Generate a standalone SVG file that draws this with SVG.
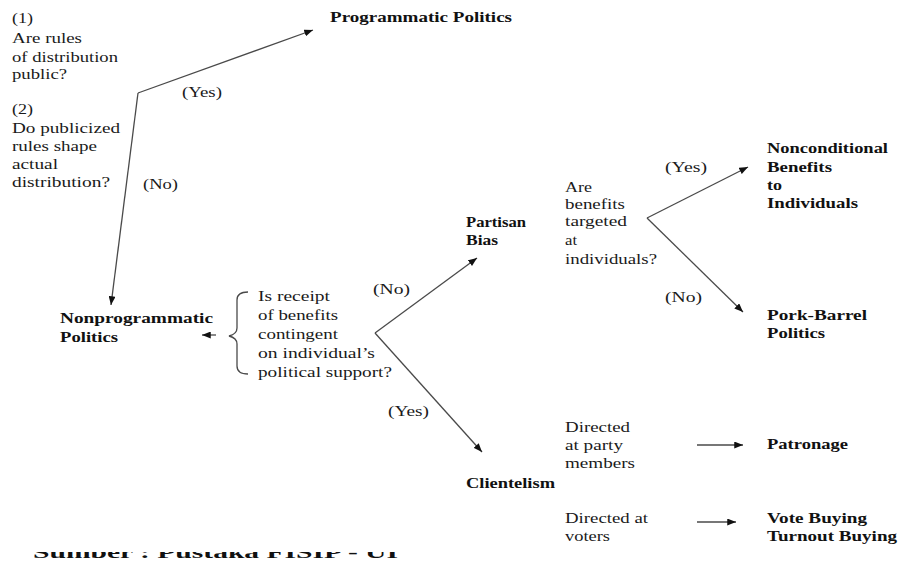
<svg xmlns="http://www.w3.org/2000/svg" width="901" height="563" viewBox="0 0 901 563">
<style>
text{font-family:"Liberation Serif","Times New Roman",serif;font-size:14px;fill:#1a1a1a}
.b{font-weight:bold;fill:#111}
.ln{stroke:#4a4a4a;stroke-width:1.3;fill:none}
.ar{marker-end:url(#ah)}
</style>
<defs>
<marker id="ah" viewBox="0 0 10 8" refX="10" refY="4" markerWidth="9" markerHeight="7" orient="auto" markerUnits="userSpaceOnUse"><path d="M0,0 L10,4 L0,8 z" fill="#111"/></marker>
<clipPath id="cut" clipPathUnits="userSpaceOnUse"><rect x="0" y="552" width="901" height="11"/></clipPath>
</defs>
<rect width="901" height="563" fill="#fff"/>
<g id="connectors">
<path class="ln ar" d="M138,93 L313,30"/>
<path class="ln ar" d="M138,93 L111,305"/>
<path class="ln ar" d="M216,335 L202,335"/>
<path class="ln" d="M248,292 Q237,292 237,300 L237,328 Q237,334 229,336 Q237,338 237,344 L237,366 Q237,374 248,374"/>
<path class="ln ar" d="M375,333 L477,258"/>
<path class="ln ar" d="M375,333 L482,452"/>
<path class="ln ar" d="M647,218 L748,167"/>
<path class="ln ar" d="M647,218 L743,312"/>
<path class="ln ar" d="M697,445 L743,445"/>
<path class="ln ar" d="M697,522 L736,522"/>
</g>
<g id="q1">
<text x="12" y="23" textLength="21" lengthAdjust="spacingAndGlyphs">(1)</text>
<text x="12" y="43" textLength="70" lengthAdjust="spacingAndGlyphs">Are rules</text>
<text x="12" y="62" textLength="106" lengthAdjust="spacingAndGlyphs">of distribution</text>
<text x="12" y="79" textLength="55" lengthAdjust="spacingAndGlyphs">public?</text>
</g>
<g id="q2">
<text x="12" y="114" textLength="21" lengthAdjust="spacingAndGlyphs">(2)</text>
<text x="12" y="133" textLength="108" lengthAdjust="spacingAndGlyphs">Do publicized</text>
<text x="12" y="151" textLength="85" lengthAdjust="spacingAndGlyphs">rules shape</text>
<text x="12" y="169" textLength="46" lengthAdjust="spacingAndGlyphs">actual</text>
<text x="12" y="187" textLength="98" lengthAdjust="spacingAndGlyphs">distribution?</text>
</g>
<g id="labels">
<text x="182" y="97" textLength="40" lengthAdjust="spacingAndGlyphs">(Yes)</text>
<text x="143" y="189" textLength="35" lengthAdjust="spacingAndGlyphs">(No)</text>
<text x="373" y="294" textLength="37" lengthAdjust="spacingAndGlyphs">(No)</text>
<text x="388" y="416" textLength="41" lengthAdjust="spacingAndGlyphs">(Yes)</text>
<text x="665" y="172" textLength="42" lengthAdjust="spacingAndGlyphs">(Yes)</text>
<text x="665" y="302" textLength="37" lengthAdjust="spacingAndGlyphs">(No)</text>
</g>
<g id="programmatic">
<text class="b" x="330" y="22" textLength="182" lengthAdjust="spacingAndGlyphs">Programmatic Politics</text>
</g>
<g id="nonprogrammatic">
<text class="b" x="60" y="323" textLength="153" lengthAdjust="spacingAndGlyphs">Nonprogrammatic</text>
<text class="b" x="60" y="342" textLength="58" lengthAdjust="spacingAndGlyphs">Politics</text>
</g>
<g id="q3">
<text x="258" y="301" textLength="72" lengthAdjust="spacingAndGlyphs">Is receipt</text>
<text x="258" y="320" textLength="80" lengthAdjust="spacingAndGlyphs">of benefits</text>
<text x="258" y="339" textLength="80" lengthAdjust="spacingAndGlyphs">contingent</text>
<text x="258" y="358" textLength="117" lengthAdjust="spacingAndGlyphs">on individual’s</text>
<text x="258" y="377" textLength="134" lengthAdjust="spacingAndGlyphs">political support?</text>
</g>
<g id="partisan">
<text class="b" x="466" y="227" textLength="60" lengthAdjust="spacingAndGlyphs">Partisan</text>
<text class="b" x="466" y="245" textLength="32" lengthAdjust="spacingAndGlyphs">Bias</text>
</g>
<g id="q4">
<text x="565" y="192" textLength="27" lengthAdjust="spacingAndGlyphs">Are</text>
<text x="565" y="209" textLength="60" lengthAdjust="spacingAndGlyphs">benefits</text>
<text x="565" y="226" textLength="62" lengthAdjust="spacingAndGlyphs">targeted</text>
<text x="565" y="245" textLength="12" lengthAdjust="spacingAndGlyphs">at</text>
<text x="565" y="264" textLength="92" lengthAdjust="spacingAndGlyphs">individuals?</text>
</g>
<g id="nonconditional">
<text class="b" x="767" y="153" textLength="121" lengthAdjust="spacingAndGlyphs">Nonconditional</text>
<text class="b" x="767" y="172" textLength="65" lengthAdjust="spacingAndGlyphs">Benefits</text>
<text class="b" x="767" y="190" textLength="15" lengthAdjust="spacingAndGlyphs">to</text>
<text class="b" x="767" y="208" textLength="91" lengthAdjust="spacingAndGlyphs">Individuals</text>
</g>
<g id="porkbarrel">
<text class="b" x="767" y="320" textLength="100" lengthAdjust="spacingAndGlyphs">Pork-Barrel</text>
<text class="b" x="767" y="338" textLength="58" lengthAdjust="spacingAndGlyphs">Politics</text>
</g>
<g id="clientelism">
<text class="b" x="466" y="488" textLength="89" lengthAdjust="spacingAndGlyphs">Clientelism</text>
</g>
<g id="q5">
<text x="565" y="432" textLength="65" lengthAdjust="spacingAndGlyphs">Directed</text>
<text x="565" y="450" textLength="58" lengthAdjust="spacingAndGlyphs">at party</text>
<text x="565" y="468" textLength="70" lengthAdjust="spacingAndGlyphs">members</text>
<text x="565" y="523" textLength="83" lengthAdjust="spacingAndGlyphs">Directed at</text>
<text x="565" y="541" textLength="45" lengthAdjust="spacingAndGlyphs">voters</text>
</g>
<g id="patronage">
<text class="b" x="767" y="449" textLength="81" lengthAdjust="spacingAndGlyphs">Patronage</text>
</g>
<g id="votebuying">
<text class="b" x="767" y="523" textLength="100" lengthAdjust="spacingAndGlyphs">Vote Buying</text>
<text class="b" x="767" y="541" textLength="130" lengthAdjust="spacingAndGlyphs">Turnout Buying</text>
</g>
<g id="source" clip-path="url(#cut)">
<text class="b" x="33" y="558" style="font-size:17px" textLength="365" lengthAdjust="spacingAndGlyphs">Sumber : Pustaka FISIP - UI</text>
</g>
</svg>
